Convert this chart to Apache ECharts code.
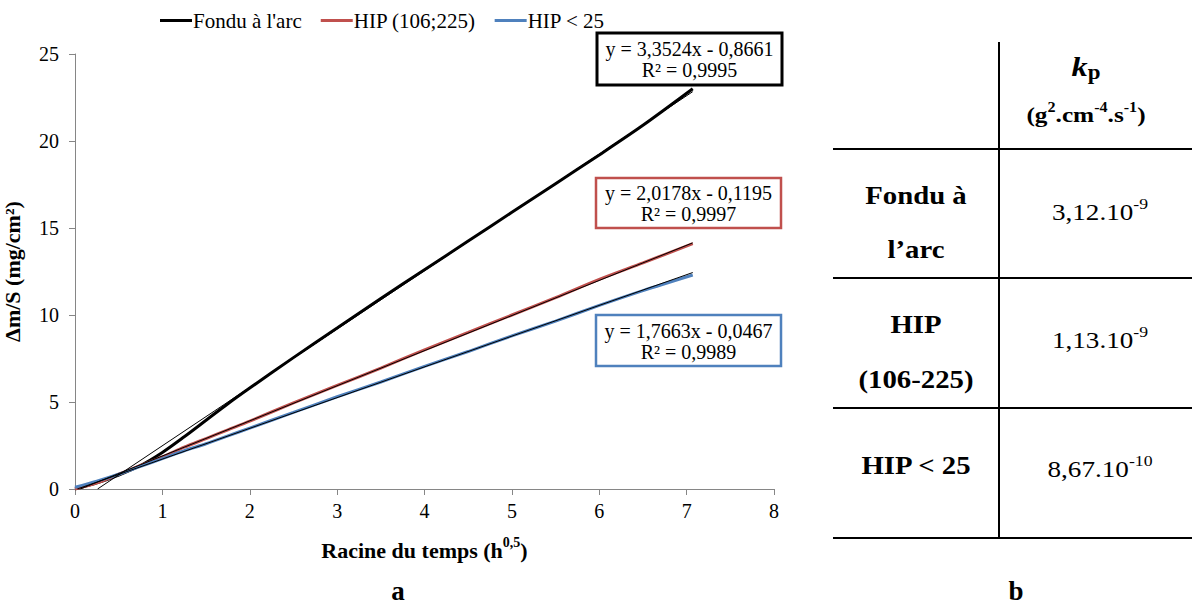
<!DOCTYPE html>
<html><head><meta charset="utf-8">
<script src="https://cdn.jsdelivr.net/npm/echarts@6/dist/echarts.min.js"></script>
<style>html,body{margin:0;padding:0;background:#fff}#c{width:1192px;height:609px}</style>
</head><body><div id="c"></div>
<script>
// ---- data ----
var seriesNames = ["Fondu à l'arc", "HIP (106;225)", "HIP < 25"];
var seriesColors = ["#000000", "#C0504D", "#4F81BD"];
var fonduX = [0, 0.25, 0.5, 0.75, 1, 1.25, 1.5, 1.75, 2, 2.5, 3, 3.5, 4, 4.5, 5, 5.5, 6, 6.5, 7.07];
var fonduY = [0, 0.35, 0.8, 1.35, 2.1, 3.0, 3.95, 4.9, 5.8, 7.55, 9.25, 10.95, 12.6, 14.25, 15.9, 17.55, 19.2, 20.9, 23.0];
var hip106X = [0, 0.25, 0.5, 0.75, 1, 1.25, 1.5, 1.75, 2, 2.5, 3, 3.5, 4, 4.5, 5, 5.5, 6, 6.5, 7.07];
var hip106Y = [0, 0.35, 0.85, 1.35, 1.85, 2.4, 2.9, 3.4, 3.9, 4.95, 5.95, 6.95, 8.0, 9.0, 10.0, 11.0, 12.05, 13.0, 14.1];
var hip25X = [0, 0.25, 0.5, 0.75, 1, 1.25, 1.5, 1.75, 2, 2.5, 3, 3.5, 4, 4.5, 5, 5.5, 6, 6.5, 7.07];
var hip25Y = [0.1, 0.45, 0.85, 1.3, 1.75, 2.2, 2.6, 3.05, 3.5, 4.4, 5.3, 6.15, 7.05, 7.9, 8.8, 9.65, 10.55, 11.4, 12.3];
// trend lines (linear fits shown in the chart)
var trendSlopes = [3.3524, 2.0178, 1.7663];
var trendIntercepts = [-0.8661, -0.1195, -0.0467];
var trendR2 = ["0,9995", "0,9997", "0,9989"];
var trendXMax = 7.07;
// axes
var xTicks = [0, 8, 1];
var yTicks = [0, 25, 5];
// table b
var tableRowLabels = [["Fondu à", "l\u2019arc"], ["HIP", "(106-225)"], ["HIP < 25"]];
var tableMantissa = ["3,12.10", "1,13.10", "8,67.10"];
var tableExponent = ["-9", "-9", "-10"];

function zip(xs, ys) { return xs.map(function (x, i) { return [x, ys[i]]; }); }
function fmt(v) { return v.toFixed(4).replace('.', ','); }
function trendLine(i) {
  var a = trendSlopes[i], b = trendIntercepts[i];
  var x0 = Math.max(0, -b / a);
  return [[x0, a * x0 + b], [trendXMax, a * trendXMax + b]];
}

var FF = 'Liberation Serif';
function T(size, weight, style) {
  return { fontFamily: FF, fontSize: size, fontWeight: weight || 'normal', fontStyle: style || 'normal', fill: '#000' };
}
function ext(a, b) { return Object.assign({}, a, b); }

var chart = echarts.init(document.getElementById('c'), null, { renderer: 'svg' });

var dataSets = [zip(fonduX, fonduY), zip(hip106X, hip106Y), zip(hip25X, hip25Y)];
var series = [];
dataSets.forEach(function (d, i) {
  series.push({ name: seriesNames[i], type: 'line', data: d, symbol: 'none', smooth: 0.3,
    lineStyle: { color: seriesColors[i], width: 3 }, itemStyle: { color: seriesColors[i] }, z: 2 });
});
dataSets.forEach(function (d, i) {
  series.push({ name: 'trend' + i, type: 'line', data: trendLine(i), symbol: 'none',
    lineStyle: { color: '#000', width: 1 }, z: 3, silent: true });
});

// trend label boxes
var boxes = [
  { x: 597, y: 33, w: 185, h: 52, c: '#000', lw: 3 },
  { x: 596, y: 178, w: 185, h: 50, c: '#C0504D', lw: 2.5 },
  { x: 596, y: 315, w: 185, h: 51, c: '#4F81BD', lw: 2.5 }
];
var graphics = [];
boxes.forEach(function (b, i) {
  graphics.push({ type: 'rect', shape: { x: b.x, y: b.y, width: b.w, height: b.h },
    style: { fill: '#fff', stroke: b.c, lineWidth: b.lw }, z: 10 });
  var b0 = trendIntercepts[i];
  var eq = 'y = ' + fmt(trendSlopes[i]) + 'x ' + (b0 < 0 ? '- ' : '+ ') + fmt(Math.abs(b0));
  graphics.push({ type: 'text', x: b.x + b.w / 2, y: b.y + b.h / 2 - 10, z: 11,
    style: ext(T(20), { text: eq, textAlign: 'center', textVerticalAlign: 'middle' }) });
  graphics.push({ type: 'text', x: b.x + b.w / 2, y: b.y + b.h / 2 + 11, z: 11,
    style: ext(T(20), { text: 'R\u00b2 = ' + trendR2[i], textAlign: 'center', textVerticalAlign: 'middle' }) });
});

// table
var lineStyleT = { stroke: '#000', lineWidth: 2 };
graphics.push({ type: 'line', shape: { x1: 999, y1: 42, x2: 999, y2: 538 }, style: lineStyleT });
[149, 278, 408, 538].forEach(function (y) {
  graphics.push({ type: 'line', shape: { x1: 833, y1: y, x2: 1192, y2: y }, style: lineStyleT });
});
// header
graphics.push({ type: 'text', x: 1086, y: 68, scaleX: 1.15,
  style: { text: '{k|k}{p|p}', align: 'center', verticalAlign: 'middle',
    rich: { k: ext(T(28, 'bold', 'italic'), { verticalAlign: 'top', lineHeight: 30 }),
            p: ext(T(20, 'bold'), { verticalAlign: 'bottom', lineHeight: 30 }) } } });
graphics.push({ type: 'text', x: 1086, y: 113, scaleX: 1.15,
  style: { text: '{m|(g}{s|2}{m|.cm}{s|-4}{m|.s}{s|-1}{m|)}', align: 'center', verticalAlign: 'middle',
    rich: { m: ext(T(22, 'bold'), { lineHeight: 26, verticalAlign: 'bottom' }),
            s: ext(T(14, 'bold'), { lineHeight: 26, verticalAlign: 'top' }) } } });
var rowY = [[196, 250], [325, 380], [466]];
var valY = [210, 338, 467];
tableRowLabels.forEach(function (lines, r) {
  lines.forEach(function (t, j) {
    graphics.push({ type: 'text', x: 916, y: rowY[r][j], scaleX: 1.15,
      style: ext(T(25, 'bold'), { text: t, align: 'center', verticalAlign: 'middle' }) });
  });
  graphics.push({ type: 'text', x: 1100, y: valY[r], scaleX: 1.18,
    style: { text: '{m|' + tableMantissa[r] + '}{s|' + tableExponent[r] + '}', align: 'center', verticalAlign: 'middle',
      rich: { m: ext(T(23), { lineHeight: 28, verticalAlign: 'bottom' }),
              s: ext(T(15), { lineHeight: 28, verticalAlign: 'top' }) } } });
});
// panel letters
graphics.push({ type: 'text', x: 398, y: 591, style: ext(T(27, 'bold'), { text: 'a', align: 'center', verticalAlign: 'middle' }) });
graphics.push({ type: 'text', x: 1016, y: 591, style: ext(T(27, 'bold'), { text: 'b', align: 'center', verticalAlign: 'middle' }) });

var axisCommon = {
  type: 'value', splitLine: { show: false },
  axisLine: { show: true, onZero: false, lineStyle: { color: '#868686', width: 1 } },
  axisTick: { show: true, inside: false, length: 6, lineStyle: { color: '#868686' } },
  nameLocation: 'middle'
};

chart.setOption({
  animation: false,
  backgroundColor: '#fff',
  textStyle: { fontFamily: FF },
  grid: { left: 75, top: 54, width: 699, height: 435, containLabel: false, outerBoundsMode: 'none' },
  legend: {
    data: seriesNames, left: 155, top: 5, itemWidth: 32, itemHeight: 3, itemGap: 19, icon: 'rect',
    textStyle: { fontFamily: FF, fontSize: 21, color: '#000', padding: [0, 0, 0, -4] }
  },
  xAxis: Object.assign({}, axisCommon, {
    min: xTicks[0], max: xTicks[1], interval: xTicks[2],
    axisLabel: { color: '#000', fontFamily: FF, fontSize: 20, margin: 12 },
    name: '{t|Racine du temps (h}{s|0,5}{t|)}', nameGap: 46,
    nameTextStyle: { rich: {
      t: { fontFamily: FF, fontWeight: 'bold', fontSize: 22, color: '#000', lineHeight: 26, verticalAlign: 'bottom' },
      s: { fontFamily: FF, fontWeight: 'bold', fontSize: 14, color: '#000', lineHeight: 26, verticalAlign: 'top' } } }
  }),
  yAxis: Object.assign({}, axisCommon, {
    min: yTicks[0], max: yTicks[1], interval: yTicks[2],
    axisLabel: { color: '#000', fontFamily: FF, fontSize: 20, margin: 16 },
    name: '\u0394m/S (mg/cm\u00b2)', nameGap: 52,
    nameTextStyle: { fontFamily: FF, fontWeight: 'bold', fontSize: 22, color: '#000' }
  }),
  series: series,
  graphic: graphics
});
</script></body></html>
